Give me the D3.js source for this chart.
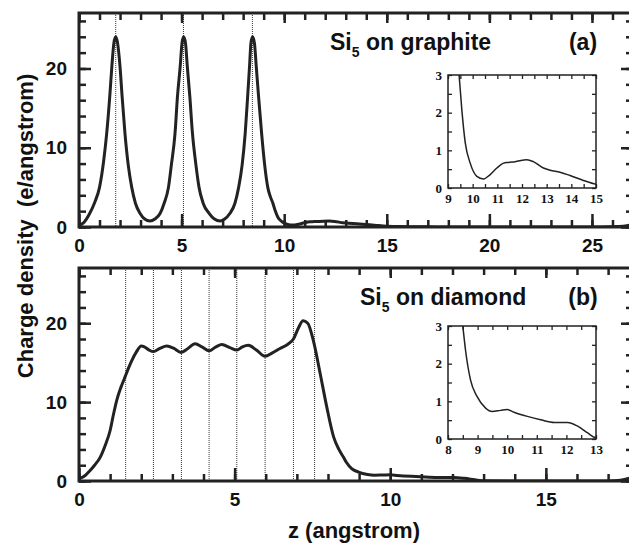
<!DOCTYPE html>
<html>
<head>
<meta charset="utf-8">
<script src="https://cdn.jsdelivr.net/npm/d3@7"></script>
<style>
  body { margin: 0; background: #fff; }
  text { font-family: "Liberation Sans", Arial, sans-serif; font-weight: bold; fill: #111; }
  .inset text { font-family: "Liberation Serif", "Times New Roman", serif; font-size: 13px; }
</style>
</head>
<body>
<div id="chart"></div>
<script>
var w = 629;
var h = 546;

// Si5 on graphite: charge density vs z
var graphiteZ = [0, 0.25, 0.5, 0.75, 1.0, 1.2, 1.35, 1.5, 1.6, 1.7, 1.79, 1.88, 2.0, 2.1, 2.24, 2.4, 2.57, 2.75, 2.98, 3.2, 3.46,
                 3.7, 3.95, 4.15, 4.36, 4.5, 4.68, 4.8, 4.93, 5.02, 5.1, 5.19, 5.28, 5.4, 5.53, 5.7, 5.85, 6.05, 6.35, 6.6, 6.88,
                 7.1, 7.35, 7.6, 7.78, 7.95, 8.1, 8.22, 8.31, 8.38, 8.46, 8.55, 8.64, 8.75, 8.9, 9.05, 9.2, 9.33, 9.45, 9.56, 9.7,
                 9.9, 10.17, 10.44, 10.7, 10.98, 11.25, 11.45, 11.72, 12.2, 12.46, 12.87, 13.14, 13.54, 13.95, 14.49, 15.0,
                 15.5, 16, 17, 18, 25.5, 26.3, 26.7, 27];
var graphiteRho = [0.2, 0.6, 1.6, 3.0, 5.0, 8.3, 11.8, 16.5, 20.2, 23.2, 24.0, 23.2, 20.2, 16.5, 11.8, 7.8, 5.0, 3.0, 1.7, 1.0, 0.75,
                   1.0, 1.7, 3.0, 5.0, 7.8, 11.8, 16.5, 20.2, 23.2, 24.0, 23.2, 20.2, 16.5, 11.8, 7.8, 5.0, 3.0, 1.7, 1.0, 0.75,
                   1.0, 1.7, 3.0, 5.0, 7.8, 11.8, 16.5, 20.2, 23.2, 24.0, 23.2, 20.2, 16.5, 11.8, 7.8, 5.0, 3.8, 3.0, 2.08, 1.2,
                   0.66, 0.31, 0.24, 0.35, 0.53, 0.66, 0.68, 0.70, 0.75, 0.70, 0.53, 0.47, 0.42, 0.33, 0.2, 0.1,
                   0.07, 0.04, 0.02, 0.0, 0.0, 0.05, 0.15, 0.35];
var graphiteLayers = [1.79, 5.09, 8.45];

// Si5 on diamond
var diamondZ = [0, 0.2, 0.35, 0.5, 0.68, 0.85, 1.0, 1.1, 1.21, 1.35, 1.48, 1.6, 1.7, 1.85, 2.0, 2.1, 2.25, 2.39, 2.6, 2.82,
                3.05, 3.28, 3.5, 3.73, 3.95, 4.18, 4.4, 4.59, 4.85, 5.07, 5.25, 5.44, 5.7, 5.98, 6.2, 6.46, 6.7, 6.89,
                7.05, 7.2, 7.35, 7.53, 7.75, 7.96, 8.18, 8.35, 8.5, 8.59, 8.76, 8.98, 9.27, 9.49, 9.78, 10.0, 10.23,
                10.68, 11.13, 11.59, 12.04, 12.38, 12.72, 13.0, 14, 17, 17.4, 17.8];
var diamondRho = [0.3, 0.7, 1.3, 2.0, 3.0, 4.6, 6.4, 8.3, 10.2, 11.9, 13.2, 14.4, 15.3, 16.4, 17.1, 17.0, 16.6, 16.4, 16.8, 17.1,
                  16.8, 16.3, 16.8, 17.4, 17.0, 16.5, 17.0, 17.3, 16.9, 16.6, 17.0, 17.2, 16.6, 15.8, 16.2, 16.8, 17.3, 18.0,
                  19.4, 20.3, 20.0, 17.8, 13.6, 9.4, 5.6, 4.0, 3.0, 2.37, 1.57, 1.13, 0.82, 0.73, 0.76, 0.78, 0.71,
                  0.6, 0.51, 0.44, 0.44, 0.34, 0.16, 0.03, 0, 0, 0.1, 0.5];
var diamondLayers = [1.5, 2.39, 3.29, 4.18, 5.07, 5.98, 6.89, 7.57];

var yTicks = [0, 10, 20];
var graphiteTicks = [0, 5, 10, 15, 20, 25];
var diamondTicks = [0, 5, 10, 15];
var insetYTicks = [0, 1, 2, 3];
var insetATicks = [9, 10, 11, 12, 13, 14, 15];
var insetBTicks = [8, 9, 10, 11, 12, 13];

var svg = d3.select("#chart")
            .append("svg")
            .attr("width", w)
            .attr("height", h);

var left = 79, right = 633;

function panel(opt) {
    var x = d3.scaleLinear().domain([0, opt.xmax]).range([left, right]);
    var y = d3.scaleLinear().domain([0, 27]).range([opt.bottom, opt.top]);
    var g = svg.append("g");

    g.append("clipPath").attr("id", opt.id + "clip")
        .append("rect")
        .attr("x", left).attr("y", opt.top)
        .attr("width", right - left).attr("height", opt.bottom - opt.top);

    // dotted layer positions
    g.selectAll(".layer")
        .data(opt.layers)
        .enter()
        .append("line")
        .attr("x1", function(d) { return x(d); })
        .attr("x2", function(d) { return x(d); })
        .attr("y1", opt.top)
        .attr("y2", opt.bottom)
        .attr("stroke", "#333")
        .attr("stroke-width", 1)
        .attr("stroke-dasharray", "1,1");

    // minor ticks, all four sides, pointing in
    var xMinor = d3.range(0, Math.floor(opt.xmax) + 1);
    var yMinor = d3.range(0, 27, 2);
    g.append("g").attr("transform", "translate(0," + opt.bottom + ")")
        .call(d3.axisBottom(x).tickValues(xMinor).tickSize(-7).tickFormat(""));
    g.append("g").attr("transform", "translate(0," + opt.top + ")")
        .call(d3.axisTop(x).tickValues(xMinor).tickSize(-7).tickFormat(""));
    g.append("g").attr("transform", "translate(" + left + ",0)")
        .call(d3.axisLeft(y).tickValues(yMinor).tickSize(-7).tickFormat(""));
    g.append("g").attr("transform", "translate(" + right + ",0)")
        .call(d3.axisRight(y).tickValues(yMinor).tickSize(-7).tickFormat(""));

    // major ticks with labels
    var xAx = g.append("g").attr("transform", "translate(0," + opt.bottom + ")")
        .call(d3.axisBottom(x).tickValues(opt.xticks).tickSizeInner(-13).tickSizeOuter(0).tickPadding(12));
    var yAx = g.append("g").attr("transform", "translate(" + left + ",0)")
        .call(d3.axisLeft(y).tickValues(yTicks).tickSizeInner(-12).tickSizeOuter(0).tickPadding(12));
    g.append("g").attr("transform", "translate(" + right + ",0)")
        .call(d3.axisRight(y).tickValues(yTicks).tickSizeInner(-12).tickSizeOuter(0).tickFormat(""));
    g.append("g").attr("transform", "translate(0," + opt.top + ")")
        .call(d3.axisTop(x).tickValues(opt.xticks).tickSizeInner(-10).tickSizeOuter(0).tickFormat(""));
    xAx.selectAll("text").style("font-size", "19px").attr("dy", "0.71em");
    yAx.selectAll("text").style("font-size", "19px");
    g.selectAll(".domain").remove();
    g.selectAll(".tick line").attr("stroke", "#222").attr("stroke-width", 2.5);

    // frame
    g.append("rect")
        .attr("x", left).attr("y", opt.top)
        .attr("width", right - left).attr("height", opt.bottom - opt.top)
        .attr("fill", "none").attr("stroke", "#222").attr("stroke-width", 3);

    var line = d3.line()
        .x(function(d) { return x(d[0]); })
        .y(function(d) { return y(d[1]); })
        .curve(d3.curveMonotoneX);

    g.append("path")
        .datum(d3.zip(opt.zs, opt.rho))
        .attr("clip-path", "url(#" + opt.id + "clip)")
        .attr("d", line)
        .attr("fill", "none")
        .attr("stroke", "#222")
        .attr("stroke-width", 3);

    // title
    var t = g.append("text").attr("x", opt.titleX).attr("y", opt.top + 37).style("font-size", "23px");
    t.append("tspan").text("Si");
    t.append("tspan").attr("dy", 7).style("font-size", "14px").text("5");
    t.append("tspan").attr("dy", -7).text(" on " + opt.name);
    g.append("text").attr("x", 583).attr("y", opt.top + 37)
        .attr("text-anchor", "middle").style("font-size", "23px").text(opt.tag);

    // inset
    var ib = opt.inset;
    var ix = d3.scaleLinear().domain(ib.xd).range([448, 596]);
    var iy = d3.scaleLinear().domain([0, 3]).range([ib.bottom, ib.bottom - 113]);
    var ig = svg.append("g").attr("class", "inset");
    ig.append("rect")
        .attr("x", 448).attr("y", ib.bottom - 113)
        .attr("width", 148).attr("height", 113)
        .attr("fill", "#fff");
    ig.append("clipPath").attr("id", opt.id + "iclip")
        .append("rect")
        .attr("x", 448).attr("y", ib.bottom - 113)
        .attr("width", 148).attr("height", 113);

    var ixMinor = d3.range(ib.xd[0], ib.xd[1] + 0.01, 0.5);
    var iyMinor = d3.range(0, 3.01, 0.5);
    ig.append("g").attr("transform", "translate(0," + ib.bottom + ")")
        .call(d3.axisBottom(ix).tickValues(ixMinor).tickSize(-4).tickFormat(""));
    ig.append("g").attr("transform", "translate(0," + (ib.bottom - 113) + ")")
        .call(d3.axisTop(ix).tickValues(ixMinor).tickSize(-4).tickFormat(""));
    ig.append("g").attr("transform", "translate(448,0)")
        .call(d3.axisLeft(iy).tickValues(iyMinor).tickSize(-4).tickFormat(""));
    ig.append("g").attr("transform", "translate(596,0)")
        .call(d3.axisRight(iy).tickValues(iyMinor).tickSize(-4).tickFormat(""));
    ig.append("g").attr("transform", "translate(0," + ib.bottom + ")")
        .call(d3.axisBottom(ix).tickValues(ib.ticks).tickFormat(d3.format("d"))
              .tickSizeInner(0).tickSizeOuter(0).tickPadding(6))
        .selectAll("text").attr("dy", "0.71em");
    ig.append("g").attr("transform", "translate(448,0)")
        .call(d3.axisLeft(iy).tickValues(insetYTicks).tickFormat(d3.format("d"))
              .tickSizeInner(0).tickSizeOuter(0).tickPadding(6));
    ig.selectAll(".domain").remove();
    ig.selectAll(".tick line").attr("stroke", "#222").attr("stroke-width", 1.3);

    var iline = d3.line()
        .x(function(d) { return ix(d[0]); })
        .y(function(d) { return iy(d[1]); })
        .curve(d3.curveMonotoneX);
    ig.append("path")
        .datum(d3.zip(opt.zs, opt.rho))
        .attr("clip-path", "url(#" + opt.id + "iclip)")
        .attr("d", iline)
        .attr("fill", "none")
        .attr("stroke", "#222")
        .attr("stroke-width", 1.5);
    ig.append("rect")
        .attr("x", 448).attr("y", ib.bottom - 113)
        .attr("width", 148).attr("height", 113)
        .attr("fill", "none").attr("stroke", "#222").attr("stroke-width", 1.5);
}

panel({ id: "a", xmax: 27, top: 13, bottom: 227, zs: graphiteZ, rho: graphiteRho,
        layers: graphiteLayers, xticks: graphiteTicks, name: "graphite", tag: "(a)", titleX: 330,
        inset: { xd: [9, 15], bottom: 188, ticks: insetATicks } });
panel({ id: "b", xmax: 17.8, top: 268, bottom: 481, zs: diamondZ, rho: diamondRho,
        layers: diamondLayers, xticks: diamondTicks, name: "diamond", tag: "(b)", titleX: 360,
        inset: { xd: [8, 13], bottom: 439, ticks: insetBTicks } });

// axis titles
svg.append("text")
    .attr("transform", "translate(33,226) rotate(-90)")
    .attr("text-anchor", "middle")
    .style("font-size", "22px")
    .attr("xml:space", "preserve")
    .text("Charge density  (e/angstrom)");

svg.append("text")
    .attr("x", 354)
    .attr("y", 538)
    .attr("text-anchor", "middle")
    .style("font-size", "22px")
    .text("z (angstrom)");
</script>
</body>
</html>
